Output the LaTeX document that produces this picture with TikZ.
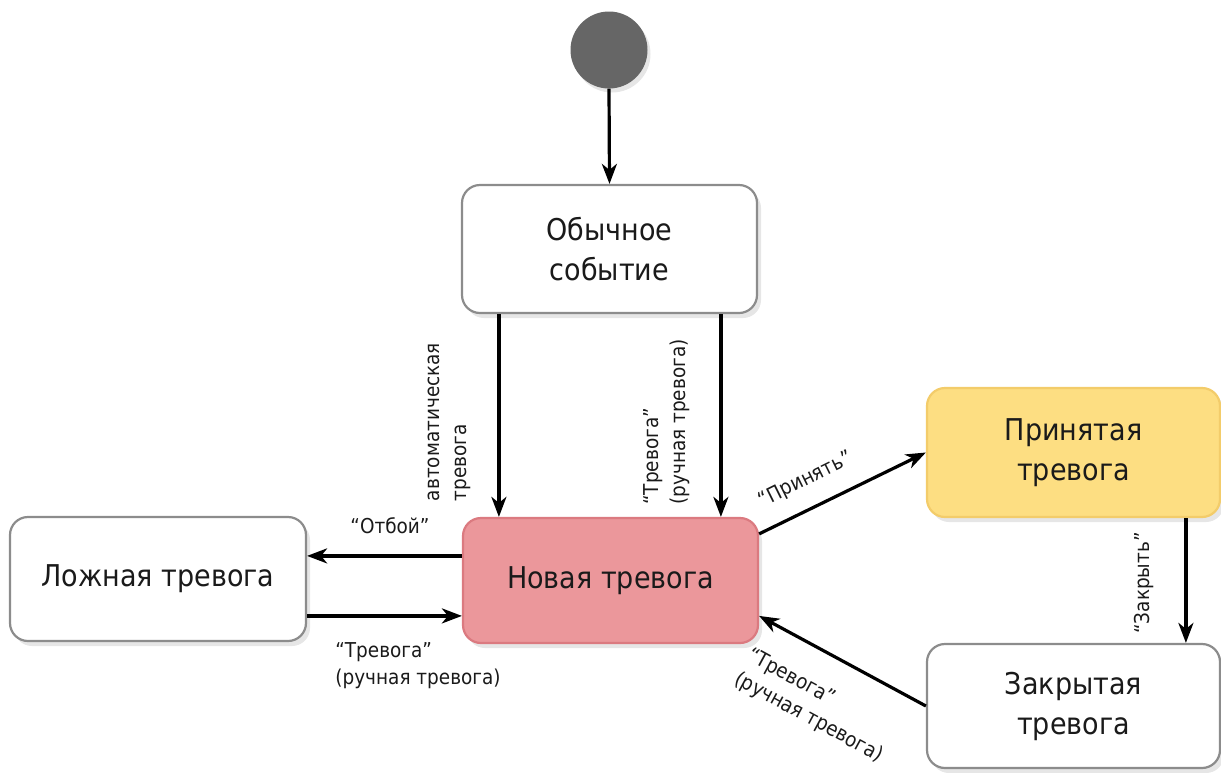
\documentclass[tikz,border=0pt]{standalone}
\usepackage{fontspec}
\setmainfont{DejaVu Sans}[FakeStretch=0.9]
\usetikzlibrary{arrows.meta,shadows}
\definecolor{pinkfill}{HTML}{EB979B}
\definecolor{pinkline}{HTML}{DB7A80}
\definecolor{yelfill}{HTML}{FDDE82}
\definecolor{yelline}{HTML}{F3CC6A}
\definecolor{boxline}{HTML}{8C8C8C}
\definecolor{txt}{HTML}{1A1A1A}
\tikzset{
  state/.style={draw=boxline, line width=2.2pt, rounded corners=18pt, fill=white,
    minimum width=295pt, minimum height=126pt, align=center, text=txt,
    font=\fontsize{30}{40}\selectfont,
    drop shadow={opacity=0.2, shadow xshift=4pt, shadow yshift=-5pt}},
  arr/.style={line width=3.2pt, draw=black, -{Stealth[length=20pt,width=15pt,inset=6pt]}},
  lbl/.style={font=\fontsize{20.5}{27}\selectfont, text=txt, align=left, inner sep=0pt},
}
\begin{document}
\begin{tikzpicture}[x=1pt,y=-1pt]
\useasboundingbox (0,0) rectangle (1221,772);
\node[circle, fill=black!60, minimum size=77pt, inner sep=0pt,
  drop shadow={opacity=0.2, shadow xshift=3pt, shadow yshift=-4pt}] (start) at (609,50) {};
\node[state, minimum width=295pt, minimum height=128pt] (obych) at (609.5,249) {Обычное\\событие};
\node[state, fill=pinkfill, draw=pinkline, minimum height=125pt] (nova) at (610.5,580.5) {Новая тревога};
\node[state, minimum width=296pt, minimum height=124pt] (lozh) at (158,579) {Ложная тревога};
\node[state, fill=yelfill, draw=yelline, minimum width=293pt, minimum height=129pt] (prin) at (1073.5,452.5) {Принятая\\тревога};
\node[state, minimum width=293pt, minimum height=124pt] (zakr) at (1073.5,706) {Закрытая\\тревога};

\draw[arr] (start.south) -- (obych.north);
\draw[arr] ([xshift=38pt]obych.south west) -- ([xshift=37pt]nova.north west);
\draw[arr] ([xshift=260pt]obych.south west) -- ([xshift=259pt]nova.north west);
\draw[arr] ([yshift=-39pt]nova.north west) -- ([yshift=-40pt]lozh.north east);
\draw[arr] ([yshift=-100pt]lozh.north east) -- ([yshift=-99pt]nova.north west);
\draw[arr] ([yshift=-17pt]nova.north east) -- (prin.west);
\draw[arr] ([xshift=260pt]prin.south west) -- ([xshift=260pt]zakr.north west);
\draw[arr] (zakr.west) -- ([yshift=-99pt]nova.north east);

\node[lbl, rotate=90] (l1) at (449,422) {автоматическая\\тревога};
\node[lbl, rotate=90] (l2) at (667,422) {“Тревога”\\(ручная тревога)};
\node[lbl] (l3) at (390,526) {“Отбой”};
\node[lbl] (l4) at (418,666) {“Тревога”\\(ручная тревога)};
\node[lbl, rotate=26.4] (l5) at (806,480) {“Принять”};
\node[lbl, rotate=90] (l6) at (1144,583) {“Закрыть”};
\node[lbl, rotate=-28.5] (l7) at (815,706) {“Тревога”\\(ручная тревога)};
\end{tikzpicture}
\end{document}
